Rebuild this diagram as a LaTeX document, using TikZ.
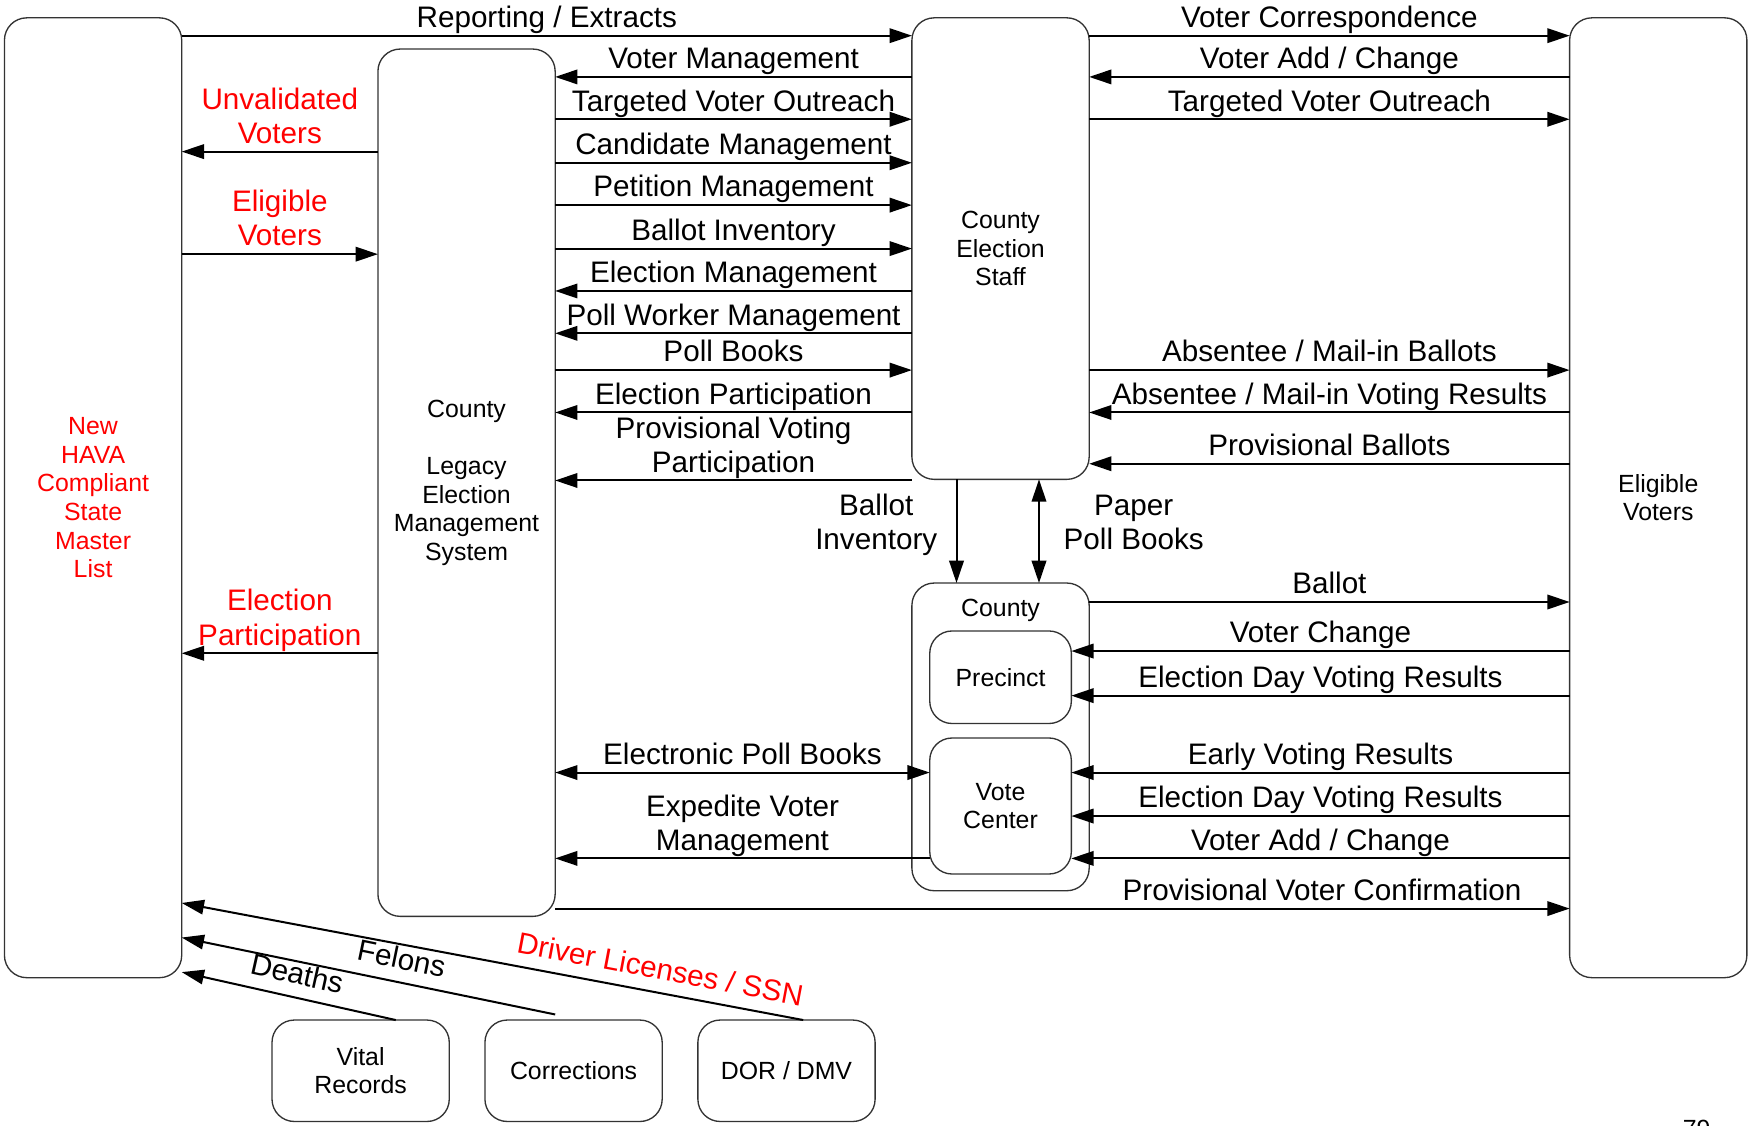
\documentclass[tikz,border=0pt]{standalone}
\usepackage{fontspec}
\setmainfont{Liberation Sans}
\usetikzlibrary{arrows.meta}
\newcommand\bigtxt{\fontsize{13.3pt}{15.3pt}\selectfont}
\newcommand\smtxt{\fontsize{11.15pt}{12.85pt}\selectfont}
\begin{document}
\begin{tikzpicture}[x=0.5pt,y=-0.5pt,
  box/.style={draw=black!80, line width=0.6pt, rectangle, rounded corners=10pt,
    outer sep=0pt, inner sep=2pt, align=center, font=\smtxt},
  arr/.style={line width=0.9pt, -{Triangle[length=10pt,width=6.5pt]}},
  rarr/.style={line width=0.9pt, {Triangle[length=10pt,width=6.5pt]}-},
  biarr/.style={line width=0.9pt, {Triangle[length=10pt,width=6.5pt]}-{Triangle[length=10pt,width=6.5pt]}},
  lab/.style={midway, above=3.25pt, inner sep=0pt, text depth=0pt, align=center, font=\bigtxt},
  dlab/.style={sloped, above=5.5pt, inner sep=0pt, text depth=0pt, font=\bigtxt},
  vlab/.style={anchor=south, inner sep=0pt, text depth=0pt, align=center, font=\bigtxt},
]
\useasboundingbox (0,0) rectangle (1568,1010);

% ---- main blocks ----
\node[box, minimum width=79.5pt, minimum height=430.5pt, text=red] (master) at (83.5,446.5)
  {New\\HAVA\\Compliant\\State\\Master\\List};
\node[box, minimum width=79.5pt, minimum height=389pt] (legacy) at (418.5,433)
  {County\\[12.85pt]Legacy\\Election\\Management\\System};
\node[box, minimum width=79.5pt, minimum height=207pt] (staff) at (897.5,223)
  {County\\Election\\Staff};
\node[box, minimum width=79.5pt, minimum height=430.5pt] (voters) at (1487.5,446.5)
  {Eligible\\Voters};

% ---- county polling places ----
\node[box, minimum width=79.5pt, minimum height=138pt] (county) at (897.5,661) {};
\node[font=\smtxt, anchor=base, inner sep=0pt] (countylbl) at (897.5,553) {County};
\node[box, minimum width=63.5pt, minimum height=41.5pt] (precinct) at (897.5,607.5) {Precinct};
\node[box, minimum width=63.5pt, minimum height=61pt] (vc) at (897.5,723) {Vote\\Center};

% ---- external sources ----
\node[box, minimum width=79.5pt, minimum height=45.5pt] (vital) at (323.5,960.5) {Vital\\Records};
\node[box, minimum width=79.5pt, minimum height=45.5pt] (corr) at (514.5,960.5) {Corrections};
\node[box, minimum width=79.5pt, minimum height=45.5pt] (dor) at (705.5,960.5) {DOR / DMV};

% ---- master list <-> legacy system ----
\draw[arr] (legacy.west |- 0,136) -- node[lab, text=red]{Unvalidated\\Voters} (master.east |- 0,136);
\draw[arr] (master.east |- 0,228) -- node[lab, text=red]{Eligible\\Voters} (legacy.west |- 0,228);
\draw[arr] (legacy.west |- 0,586) -- node[lab, text=red]{Election\\Participation} (master.east |- 0,586);

% ---- master list -> election staff ----
\draw[arr] (master.east |- 0,32) -- node[lab]{Reporting / Extracts} (staff.west |- 0,32);

% ---- election staff <-> legacy system ----
\draw[arr] (staff.west |- 0,69)  -- node[lab]{Voter Management} (legacy.east |- 0,69);
\draw[arr] (legacy.east |- 0,107) -- node[lab]{Targeted Voter Outreach} (staff.west |- 0,107);
\draw[arr] (legacy.east |- 0,146) -- node[lab]{Candidate Management} (staff.west |- 0,146);
\draw[arr] (legacy.east |- 0,184) -- node[lab]{Petition Management} (staff.west |- 0,184);
\draw[arr] (legacy.east |- 0,223) -- node[lab]{Ballot Inventory} (staff.west |- 0,223);
\draw[arr] (staff.west |- 0,261) -- node[lab]{Election Management} (legacy.east |- 0,261);
\draw[arr] (staff.west |- 0,299) -- node[lab]{Poll Worker Management} (legacy.east |- 0,299);
\draw[arr] (legacy.east |- 0,332) -- node[lab]{Poll Books} (staff.west |- 0,332);
\draw[arr] (staff.west |- 0,370) -- node[lab]{Election Participation} (legacy.east |- 0,370);
\draw[arr] (staff.west |- 0,431) -- node[lab]{Provisional Voting\\Participation} (legacy.east |- 0,431);

% ---- election staff <-> eligible voters ----
\draw[arr] (staff.east |- 0,32)  -- node[lab]{Voter Correspondence} (voters.west |- 0,32);
\draw[arr] (voters.west |- 0,69) -- node[lab]{Voter Add / Change} (staff.east |- 0,69);
\draw[arr] (staff.east |- 0,107) -- node[lab]{Targeted Voter Outreach} (voters.west |- 0,107);
\draw[arr] (staff.east |- 0,332) -- node[lab]{Absentee / Mail-in Ballots} (voters.west |- 0,332);
\draw[arr] (voters.west |- 0,370) -- node[lab]{Absentee / Mail-in Voting Results} (staff.east |- 0,370);
\draw[arr] (voters.west |- 0,416) -- node[lab]{Provisional Ballots} (staff.east |- 0,416);

% ---- election staff -> county ----
\draw[arr] (staff.south -| 858,0) -- (county.north -| 858,0);
\draw[biarr] (staff.south -| 932,0) -- (county.north -| 932,0);
\node[vlab] (ballotinv) at (786,493.5) {Ballot\\Inventory};
\node[vlab] (paperpb) at (1017,493.5) {Paper\\Poll Books};

% ---- county <-> eligible voters ----
\draw[arr] (county.east |- 0,540) -- node[lab]{Ballot} (voters.west |- 0,540);
\draw[arr] (voters.west |- 0,584) -- node[lab]{Voter Change} (precinct.east |- 0,584);
\draw[arr] (voters.west |- 0,624) -- node[lab]{Election Day Voting Results} (precinct.east |- 0,624);
\draw[arr] (voters.west |- 0,693) -- node[lab]{Early Voting Results} (vc.east |- 0,693);
\draw[arr] (voters.west |- 0,732) -- node[lab]{Election Day Voting Results} (vc.east |- 0,732);
\draw[arr] (voters.west |- 0,770) -- node[lab]{Voter Add / Change} (vc.east |- 0,770);

% ---- legacy system <-> vote center / voters ----
\draw[biarr] (legacy.east |- 0,693) -- node[lab]{Electronic Poll Books} (vc.west |- 0,693);
\draw[arr] (vc.west |- 0,770) -- node[lab]{Expedite Voter\\Management} (legacy.east |- 0,770);
\draw[arr] (legacy.east |- 0,815) -- node[lab, pos=0.756]{Provisional Voter Confirmation} (voters.west |- 0,815);

% ---- external feeds into the master list ----
\coordinate (felonsrc) at (498,910);
\draw[rarr] (master.east |- 0,810) -- node[dlab, pos=0.763, text=red]{Driver Licenses / SSN} (dor.north -| 720.5,0);
\draw[rarr] (master.east |- 0,841) -- node[dlab, pos=0.576]{Felons} (felonsrc);
\draw[rarr] (master.east |- 0,872) -- node[dlab, pos=0.516]{Deaths} (vital.north -| 355,0);

% ---- page number ----
\node[font=\smtxt, anchor=base, inner sep=0pt] (pagenum) at (1522,1020.5) {79};
\end{tikzpicture}
\end{document}
